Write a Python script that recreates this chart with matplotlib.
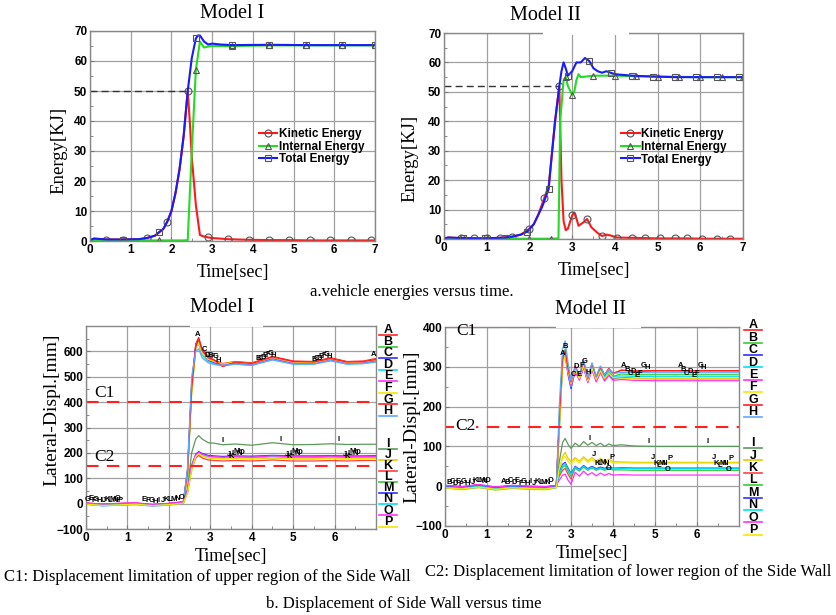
import numpy as np
import matplotlib
matplotlib.use("Agg")
import matplotlib.pyplot as plt
from matplotlib.lines import Line2D
from matplotlib.patches import Rectangle
from matplotlib.ticker import MultipleLocator

# ---- energy data, Model I ----
t_kin1 = [0, 0.1, 0.4, 0.8, 1.2, 1.4, 1.6, 1.8, 1.9, 2.0, 2.1, 2.2, 2.3, 2.4, 2.45, 2.5, 2.6, 2.7,
          2.8, 2.9, 3.0, 3.4, 3.9, 4.4, 4.9, 5.4, 5.9, 6.4, 6.9, 7.0]
kin1 = [0.3, 0.8, 0.5, 0.5, 0.6, 1.0, 1.8, 4.0, 6.5, 10, 16, 24, 35, 50, 40, 28, 12, 2.0,
        1.5, 1.2, 1.0, 0.6, 0.4, 0.3, 0.3, 0.2, 0.2, 0.2, 0.2, 0.2]
mk_kin1 = [0.4, 0.8, 1.4, 1.9, 2.4, 2.9, 3.4, 3.9, 4.4, 4.9, 5.4, 5.9, 6.4, 6.9]

t_int1 = [0, 0.8, 1.7, 2.3, 2.4, 2.5, 2.6, 2.7, 2.8, 2.9, 3.0, 3.5, 4.4, 5.3, 6.2, 7.0]
int1 = [0.2, 0.2, 0.2, 0.2, 0.3, 30, 57, 66.5, 64.5, 64.8, 65, 65, 65.2, 65.2, 65.2, 65.2]
mk_int1 = [1.7, 2.6, 3.5, 4.4, 5.3, 6.2, 7.0]

t_tot1 = [0, 0.1, 0.4, 0.8, 1.2, 1.4, 1.6, 1.7, 1.8, 1.9, 2.0, 2.1, 2.2, 2.3, 2.4, 2.5, 2.6, 2.65,
          2.7, 2.8, 2.9, 3.0, 3.2, 3.5, 4.4, 5.3, 6.2, 7.0]
tot1 = [0.3, 0.8, 0.5, 0.5, 0.6, 1.0, 1.8, 3.0, 4.0, 6.5, 10, 16, 24, 35, 50, 61, 67.5, 68.5,
        68.5, 66.5, 65.5, 65.8, 65.5, 65.3, 65.4, 65.3, 65.3, 65.3]
mk_tot1 = [0.8, 1.7, 2.6, 3.5, 4.4, 5.3, 6.2, 7.0]

# ---- energy data, Model II ----
t_kin2 = [0, 0.1, 0.4, 0.7, 1.0, 1.3, 1.6, 1.8, 2.0, 2.1, 2.2, 2.35, 2.45, 2.5, 2.6, 2.7, 2.75,
          2.8, 2.85, 2.9, 3.0, 3.05, 3.1, 3.15, 3.25, 3.35, 3.45, 3.6, 3.7, 3.8, 3.9, 4.05,
          4.4, 4.7, 5.05, 5.4, 5.7, 6.05, 6.4, 6.7, 7.0]
kin2 = [0.2, 0.5, 0.3, 0.2, 0.2, 0.4, 0.8, 1.5, 3.5, 5, 8, 14, 18, 25, 40, 52, 20,
        6, 3, 3.5, 8, 9, 7, 4.5, 5.5, 6.8, 4, 2, 1, 1.5, 1.2, 0.5,
        0.4, 0.3, 0.2, 0.2, 0.2, 0.1, 0.1, 0.1, 0.1]
mk_kin2 = [0.4, 0.7, 1.0, 1.3, 1.6, 2.0, 2.35, 2.7, 3.0, 3.35, 3.7, 4.05, 4.4, 4.7, 5.05,
           5.4, 5.7, 6.05, 6.4, 6.7]

t_int2 = [0, 0.4, 1.0, 1.5, 2.0, 2.5, 2.68, 2.72, 2.8, 2.85, 2.9, 3.0, 3.05, 3.1, 3.15, 3.2,
          3.5, 4.0, 4.5, 5.0, 5.5, 6.0, 6.5, 7.0]
int2 = [0.1, 0.1, 0.1, 0.1, 0.1, 0.1, 0.2, 40, 54, 55, 52, 49, 50, 54, 56, 55,
        55.5, 55.5, 55.3, 55.2, 55.1, 55, 55, 55]
mk_int2 = [0.4, 1.0, 2.0, 2.5, 2.85, 3.0, 3.5, 4.0, 4.5, 5.0, 5.5, 6.0, 6.5, 7.0]

t_tot2 = [0, 0.1, 0.45, 0.95, 1.45, 1.6, 1.8, 1.95, 2.1, 2.2, 2.3, 2.45, 2.5, 2.6, 2.7, 2.75,
          2.8, 2.85, 2.9, 3.0, 3.1, 3.2, 3.3, 3.4, 3.5, 3.6, 3.7, 3.8, 3.9, 4.0, 4.4, 4.9,
          5.4, 5.9, 6.4, 6.9, 7.0]
tot2 = [0.2, 0.5, 0.3, 0.2, 0.5, 0.8, 1.5, 2.5, 5, 8, 11, 17, 25, 40, 52, 57,
        60, 58, 55.5, 57, 60, 60, 61.5, 60.5, 58, 57, 56.5, 57, 56.5, 56, 55.5, 55.2,
        55, 55, 55, 55, 55]
mk_tot2 = [0.45, 0.95, 1.45, 1.95, 2.45, 2.9, 3.4, 3.9, 4.4, 4.9, 5.4, 5.9, 6.4, 6.9]

# ---- side wall displacement, Model I ----
letters = list("ABCDEFGHIJKLMNOP")
colors = ["#ff2020", "#33cc33", "#3030ff", "#00e0f0", "#ff30ff", "#f5e600", "#ff2020", "#60a8ff",
          "#5c9a5c", "#e0d000", "#ff4040", "#33cc33", "#3030ff", "#00e0f0", "#ff30ff", "#f5e600"]

t_w1 = [0, 0.4, 0.8, 1.2, 1.6, 2.0, 2.35, 2.45, 2.55, 2.65, 2.72, 2.8, 2.95, 3.1, 3.3, 3.6,
        4.0, 4.5, 5.0, 5.5, 5.9, 6.3, 6.7, 7.0]
wall1 = [
    [2, -3, 0, 2, -4, 0, 8, 130, 470, 630, 655, 610, 580, 565, 552, 560, 555, 580, 562, 560, 575, 560, 562, 572],
    [-2, -6, -4, -1, -8, -3, 4, 110, 440, 615, 640, 595, 565, 555, 545, 553, 548, 572, 552, 552, 566, 552, 555, 562],
    [0, -4, -2, 1, -5, -1, 6, 125, 460, 625, 645, 600, 565, 555, 548, 552, 546, 570, 553, 553, 567, 553, 556, 563],
    [-1, -8, -5, -2, -7, -4, 3, 115, 455, 610, 630, 585, 560, 550, 542, 550, 545, 568, 550, 550, 565, 550, 552, 560],
    [3, -2, 1, 3, -3, 1, 7, 130, 465, 625, 645, 605, 570, 558, 547, 556, 549, 574, 555, 554, 569, 554, 557, 565],
    [-3, -7, -5, -3, -9, -5, 2, 105, 430, 605, 635, 595, 568, 560, 550, 558, 552, 576, 558, 556, 571, 557, 559, 567],
    [1, -5, -2, 0, -6, -2, 5, 120, 450, 620, 650, 605, 575, 565, 540, 558, 552, 578, 560, 558, 572, 558, 560, 568],
    [-2, -9, -6, -4, -10, -6, 2, 140, 500, 600, 610, 575, 555, 548, 545, 550, 545, 566, 550, 550, 562, 550, 552, 558],
    [0, -4, -2, 0, -5, -2, 4, 60, 200, 255, 268, 255, 240, 238, 232, 235, 230, 240, 232, 233, 236, 233, 234, 234],
    [-2, -6, -4, -2, -7, -4, 2, 40, 130, 185, 195, 188, 180, 178, 176, 178, 176, 180, 176, 176, 178, 176, 177, 178],
    [1, -3, 0, 1, -4, 0, 5, 45, 140, 180, 190, 180, 172, 170, 168, 170, 168, 172, 168, 168, 170, 168, 170, 170],
    [-1, -5, -3, -1, -6, -3, 3, 50, 145, 188, 198, 190, 182, 180, 178, 180, 178, 182, 178, 178, 180, 178, 179, 180],
    [0, -4, -2, 0, -5, -2, 4, 50, 150, 195, 205, 198, 190, 188, 186, 188, 187, 190, 188, 188, 189, 188, 188, 189],
    [-1, -6, -4, -1, -6, -3, 3, 48, 148, 190, 200, 192, 184, 182, 180, 182, 180, 184, 181, 181, 183, 181, 182, 183],
    [2, -2, 1, 2, -3, 1, 6, 52, 150, 192, 202, 195, 187, 185, 183, 185, 183, 188, 185, 185, 187, 185, 186, 186],
    [-2, -7, -5, -2, -8, -4, 2, 42, 135, 186, 196, 189, 181, 179, 177, 179, 177, 181, 177, 177, 179, 177, 178, 179],
]

# ---- side wall displacement, Model II ----
t_w2 = [0, 0.4, 0.8, 1.2, 1.6, 2.0, 2.4, 2.65, 2.72, 2.8, 2.86, 2.93, 3.0, 3.1, 3.2, 3.3, 3.4,
        3.5, 3.6, 3.7, 3.8, 3.9, 4.0, 4.2, 4.5, 5.0, 5.5, 6.0, 6.5, 7.0]
wall2 = [
    [0, -3, 2, -4, 0, -2, -3, 0, 160, 320, 335, 290, 260, 300, 275, 312, 268, 305, 272, 298, 278, 294, 282, 292, 288, 290, 290, 290, 290, 290],
    [-2, -5, 0, -6, -2, -4, -5, -2, 140, 310, 345, 300, 255, 295, 270, 305, 265, 300, 268, 292, 272, 288, 276, 282, 280, 280, 280, 280, 280, 280],
    [1, -2, 3, -3, 1, -1, -2, 1, 150, 315, 330, 280, 245, 290, 268, 300, 262, 295, 265, 288, 268, 282, 270, 273, 271, 270, 270, 270, 270, 270],
    [-3, -7, -2, -8, -4, -6, -7, -3, 145, 305, 335, 290, 250, 292, 272, 302, 266, 298, 270, 290, 274, 285, 276, 277, 276, 275, 275, 275, 275, 275],
    [2, -1, 4, -2, 2, 0, -1, 2, 155, 318, 332, 285, 252, 288, 266, 298, 260, 292, 262, 285, 264, 278, 266, 268, 266, 265, 265, 265, 265, 265],
    [-5, -9, -4, -10, -6, -8, -9, -4, 135, 300, 328, 288, 258, 294, 270, 304, 264, 296, 268, 290, 270, 284, 272, 272, 270, 270, 270, 270, 270, 270],
    [1, -2, 3, -3, 1, -1, -2, 1, 165, 325, 340, 295, 262, 302, 278, 314, 270, 308, 275, 300, 280, 296, 284, 291, 290, 290, 290, 290, 290, 290],
    [-4, -8, -3, -9, -5, -7, -8, -4, 200, 345, 365, 310, 265, 298, 280, 318, 272, 310, 276, 302, 280, 294, 283, 286, 285, 285, 285, 285, 285, 285],
    [0, -3, 2, -4, 0, -2, -3, 0, 60, 110, 120, 105, 95, 108, 100, 112, 103, 110, 102, 108, 100, 106, 102, 104, 101, 100, 100, 100, 100, 100],
    [-3, -6, -1, -7, -3, -5, -6, -2, 40, 75, 85, 70, 62, 72, 63, 74, 64, 72, 63, 70, 62, 68, 62, 61, 60, 60, 60, 60, 60, 60],
    [1, -2, 3, -3, 1, -1, -2, 1, 25, 40, 45, 30, 18, 48, 40, 50, 42, 48, 42, 47, 43, 46, 44, 45, 45, 45, 45, 45, 45, 45],
    [-1, -4, 1, -5, -1, -3, -4, -1, 30, 48, 52, 38, 25, 45, 38, 48, 40, 46, 40, 44, 40, 43, 41, 41, 40, 40, 40, 40, 40, 40],
    [0, -3, 2, -4, 0, -2, -3, 0, 35, 55, 60, 45, 32, 50, 42, 52, 44, 50, 44, 48, 45, 47, 45, 46, 45, 45, 45, 45, 45, 45],
    [-2, -5, 0, -6, -2, -4, -5, -2, 32, 52, 57, 42, 30, 48, 40, 50, 42, 48, 42, 46, 43, 45, 44, 45, 44, 44, 44, 44, 44, 44],
    [2, -1, 4, -2, 2, 0, -1, 2, 15, 28, 30, 15, 5, 35, 25, 38, 28, 34, 26, 33, 27, 32, 28, 29, 28, 28, 28, 28, 28, 28],
    [-4, -7, -2, -8, -4, -6, -7, -3, 45, 70, 75, 62, 55, 68, 58, 70, 60, 67, 59, 65, 58, 63, 58, 59, 58, 58, 58, 58, 58, 58],
]

C1, C2 = 400, 150

SERIF = "Liberation Serif"
SANS = "Liberation Sans"
W, H = 837, 615

fig = plt.figure(figsize=(W / 100, H / 100), dpi=100)


def px_axes(l, r, t, b):
    return fig.add_axes([l / W, 1 - b / H, (r - l) / W, (b - t) / H])


def style(ax, xmaj, xmin, ymaj, ymin):
    ax.xaxis.set_major_locator(MultipleLocator(xmaj))
    ax.xaxis.set_minor_locator(MultipleLocator(xmin))
    ax.yaxis.set_major_locator(MultipleLocator(ymaj))
    ax.yaxis.set_minor_locator(MultipleLocator(ymin))
    ax.grid(True, which="major", color="#a0a0a0", lw=0.9)
    ax.set_axisbelow(True)
    ax.tick_params(which="both", direction="in", color="#777777", labelsize=8.5, pad=2)
    ax.tick_params(which="major", length=3)
    ax.tick_params(which="minor", length=2)
    for s in ax.spines.values():
        s.set_color("#888888")
        s.set_linewidth(1.0)


def bold_ticks(ax):
    for lab in ax.get_xticklabels() + ax.get_yticklabels():
        lab.set_fontfamily(SANS)
        lab.set_fontweight("bold")


def idx(ts, marks):
    return [list(ts).index(m) for m in marks]


def energy_plot(ax, tk, k, mk, ti, i, mi, tt, tot, mt, ref, tref):
    mkw = dict(mfc="none", mec="#555555", ms=5, mew=0.8)
    ax.plot([0, tref], [ref, ref], ls=(0, (5, 3)), color="#333333", lw=1.0)
    ax.plot(tk, k, color="#ff1a1a", lw=1.5, marker="o", markevery=idx(tk, mk),
            label="Kinetic Energy", **mkw)
    ax.plot(ti, i, color="#22dd22", lw=1.5, marker="^", markevery=idx(ti, mi),
            label="Internal Energy", **mkw)
    ax.plot(tt, tot, color="#1a1aff", lw=1.5, marker="s", markevery=idx(tt, mt),
            label="Total Energy", **mkw)
    ax.set_xlim(0, 7)
    ax.set_ylim(0, 70)
    style(ax, 1, 0.5, 10, 5)
    bold_ticks(ax)
    ax.set_xlabel("Time[sec]", fontfamily=SERIF, fontsize=13, labelpad=6)
    ax.set_ylabel("Energy[KJ]", fontfamily=SERIF, fontsize=13.5)
    ax.legend(loc="upper left", bbox_to_anchor=(0.575, 0.56), frameon=False, handlelength=1.6,
              handletextpad=0.15, labelspacing=0.05, borderaxespad=0,
              prop=dict(family=SANS, size=8.5, weight="bold"))


def wall_plot(ax, tw, wall, ylim, ymaj):
    for vals, c in zip(wall, colors):
        ax.plot(tw, vals, color=c, lw=0.9)
    ax.axhline(C1, color="#ff2020", lw=1.5, ls=(0, (6, 4)))
    ax.axhline(C2, color="#ff2020", lw=1.5, ls=(0, (6, 4)))
    ax.set_xlim(0, 7)
    ax.set_ylim(*ylim)
    style(ax, 1, 0.5, ymaj, 50)
    ax.set_xticks(range(0, 7))
    ax.set_yticks(range(-100, 401 if ylim[1] == 400 else ylim[1], 100))
    bold_ticks(ax)
    ax.set_xlabel("Time[sec]", fontfamily=SERIF, fontsize=13, labelpad=3)
    ax.set_ylabel("Lateral-Displ.[mm]", fontfamily=SERIF, fontsize=14)


def curve_letters(ax, tw, wall, groups):
    # groups: (series indices, cluster start times, step)
    for sel, starts, step in groups:
        for st in starts:
            for n, s in enumerate(sel):
                tx = st + n * step
                ty = np.interp(tx, tw, wall[s])
                ax.text(tx, ty + 4, letters[s], fontsize=5.5, fontweight="bold",
                        fontfamily=SANS, ha="center", va="bottom", zorder=5)


def side_legend(ax, x, ytop_a, ybot_h, ytop_i, ybot_p):
    ys = list(np.linspace(ytop_a, ybot_h, 8)) + list(np.linspace(ytop_i, ybot_p, 8))
    for L, c, y in zip(letters, colors, ys):
        ax.text(x, y, L, transform=ax.transAxes, fontsize=9, fontweight="bold",
                fontfamily=SANS, ha="center", va="center", clip_on=False)
        ax.add_line(Line2D([x - 0.03, x + 0.03], [y - 0.024, y - 0.024], color=c, lw=1.2,
                           transform=ax.transAxes, clip_on=False))


# ---- a. energies ----
ax1 = px_axes(90, 375, 31, 241)
energy_plot(ax1, t_kin1, kin1, mk_kin1, t_int1, int1, mk_int1, t_tot1, tot1, mk_tot1, 50, 2.4)
ax1.yaxis.set_label_coords(-0.08, 0.43)

ax2 = px_axes(444, 743, 33, 239)
energy_plot(ax2, t_kin2, kin2, mk_kin2, t_int2, int2, mk_int2, t_tot2, tot2, mk_tot2, 52, 2.7)
ax2.yaxis.set_label_coords(-0.087, 0.39)

# ---- b. side wall ----
ax3 = px_axes(86, 376, 326, 529)
wall_plot(ax3, t_w1, wall1, (-100, 700), 100)
ax3.yaxis.set_label_coords(-0.09, 0.585)
ax3.text(0.45, 435, "C1", fontfamily=SERIF, fontsize=12.5, ha="center", va="center")
ax3.text(0.45, 185, "C2", fontfamily=SERIF, fontsize=12.5, ha="center", va="center")
curve_letters(ax3, t_w1, wall1, [
    ([0], [2.7], 0), ([2, 3, 4, 5, 6, 7], [2.85], 0.07),
    ([1, 2, 3, 4, 5, 6, 7], [4.15, 5.5], 0.06), ([0], [6.95], 0),
    ([8], [3.3, 4.7, 6.1], 0), ([9, 10, 11, 12, 13, 14], [3.45, 4.85, 6.25], 0.06),
    ([6, 4, 5, 6, 7, 8, 9, 10, 11, 12, 13, 14, 15], [0.05], 0.065),
    ([4, 5, 6, 7, 8, 9, 10, 11, 12, 13, 14], [1.4], 0.09),
])
side_legend(ax3, 1.041, 0.979, 0.581, 0.419, 0.036)

ax4 = px_axes(445, 739, 327, 526)
wall_plot(ax4, t_w2, wall2, (-100, 400), 100)
ax4.yaxis.set_label_coords(-0.085, 0.5)
ax4.text(0.5, 390, "C1", fontfamily=SERIF, fontsize=12.5, ha="center", va="center")
ax4.text(0.48, 150, "C2", fontfamily=SERIF, fontsize=12.5, ha="center", va="center",
         bbox=dict(fc="white", ec="none", pad=0.5))
curve_letters(ax4, t_w2, wall2, [
    ([0, 1], [2.8], 0.07), ([2, 3, 4, 5, 6, 7], [3.05], 0.07),
    ([0, 1, 2, 3, 4, 5, 6, 7], [4.25, 5.6], 0.08),
    ([8], [3.45, 4.85, 6.25], 0), ([9, 10, 11, 12, 13, 14, 15], [3.55, 4.95, 6.4], 0.07),
    ([1, 2, 3, 4, 5, 6, 7, 8, 9, 10, 11, 12, 13, 14], [0.1], 0.07),
    ([0, 1, 2, 3, 4, 5, 6, 7, 8, 9, 10, 11, 12, 13, 14], [1.4], 0.08),
])
side_legend(ax4, 1.048, 1.008, 0.572, 0.416, -0.02)

# white patches behind titles (the source figure masks the frame there)
for l, t, w, h in [(543, 0, 86, 35), (190, 292, 73, 35), (556, 294, 85, 34)]:
    fig.patches.append(Rectangle((l / W, 1 - (t + h) / H), w / W, h / H, transform=fig.transFigure,
                                 fc="white", ec="none", zorder=3))

tkw = dict(fontfamily=SERIF, fontsize=14.5, ha="center", va="center", zorder=4)
fig.text(232 / W, 1 - 14 / H, "Model I", **tkw)
fig.text(545 / W, 1 - 15 / H, "Model II", **tkw)
fig.text(222 / W, 1 - 308 / H, "Model I", **tkw)
fig.text(590 / W, 1 - 310 / H, "Model II", **tkw)

ckw = dict(fontfamily=SERIF, fontsize=12, va="center")
fig.text(310 / W, 1 - 292 / H, "a.vehicle energies versus time.", **ckw)
fig.text(4 / W, 1 - 577 / H, "C1: Displacement limitation of upper region of the Side Wall", **ckw)
fig.text(425 / W, 1 - 572 / H, "C2: Displacement limitation of lower region of the Side Wall", **ckw)
fig.text(266 / W, 1 - 604 / H, "b. Displacement of Side Wall versus time", **ckw)

fig.savefig("out.png", dpi=100)
